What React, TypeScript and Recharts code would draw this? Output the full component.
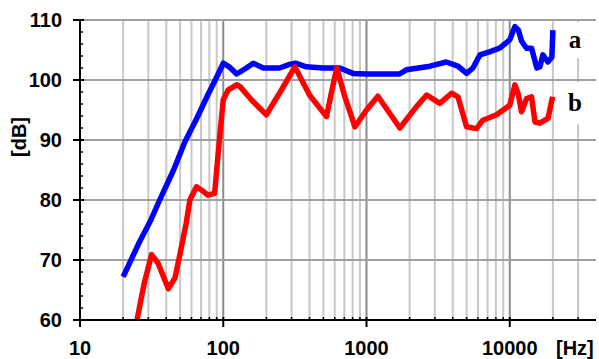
import React from 'react';
import { LineChart, Line, XAxis, YAxis, ReferenceLine } from 'recharts';

// Curve "a" (blue)
const freqA = [20, 26, 31, 36, 45, 54, 65, 78, 88, 100, 110, 124, 145, 162, 190, 247, 290, 320, 380, 500, 650, 806, 1000, 1240, 1700, 1900, 2300, 2770, 3600, 4350, 5000, 5530, 6200, 7200, 8500, 10000, 10870, 11500, 12080, 13090, 14200, 15460, 16220, 17030, 18450, 19680, 20000];
const dbA = [67.2, 73, 76.5, 80, 85, 89.7, 93.5, 97.5, 100, 102.8, 102.2, 101, 102, 102.8, 102, 102, 102.6, 102.8, 102.2, 102, 102, 101.1, 101, 101, 101, 101.7, 102, 102.3, 103, 102.3, 101.1, 102, 104.2, 104.7, 105.3, 106.7, 108.9, 108.3, 106.5, 105.3, 105.3, 102, 102.2, 104.2, 103, 103.8, 108.3];

// Curve "b" (red)
const freqB = [25, 28, 31.6, 35, 41.4, 46, 50, 55, 58.5, 65, 72, 78, 87, 95, 100, 108, 124, 131, 160, 200, 250, 316, 400, 526, 570, 620, 700, 830, 1000, 1200, 1400, 1710, 2240, 2630, 3250, 3920, 4350, 4990, 5860, 6490, 8090, 10000, 10870, 11500, 12080, 13090, 14200, 15000, 16220, 18500, 19900];
const dbB = [60, 66, 70.9, 69.5, 65.2, 67, 71.1, 76, 80, 82.2, 81.5, 80.8, 81.1, 91.2, 96.7, 98.3, 99.2, 98.9, 96.5, 94.2, 98, 102.2, 97.5, 93.9, 98, 102, 97.5, 92.2, 95, 97.3, 95, 92, 95.6, 97.5, 96.1, 97.8, 97.2, 92.2, 91.9, 93.3, 94.2, 95.8, 99.2, 97.5, 94.7, 96.9, 97.2, 93, 92.8, 93.6, 97.2];

// Axis ticks / grid
const xTicks = [10, 20, 30, 40, 50, 60, 70, 80, 90, 100, 200, 300, 400, 500, 600, 700, 800, 900, 1000, 2000, 3000, 4000, 5000, 6000, 7000, 8000, 9000, 10000, 20000, 30000];
const xMajor = [10, 100, 1000, 10000];
const yTicks = [60, 62, 64, 66, 68, 70, 72, 74, 76, 78, 80, 82, 84, 86, 88, 90, 92, 94, 96, 98, 100, 102, 104, 106, 108, 110];
const yGrid = [70, 80, 90, 100, 110];
const xUnit = '[Hz]';
const yUnit = '[dB]';
const labelA = 'a';
const labelB = 'b';

const seriesA = freqA.map((f, i) => ({ f, db: dbA[i] }));
const seriesB = freqB.map((f, i) => ({ f, db: dbB[i] }));

const FONT = '"Liberation Sans", Arial, sans-serif';

const XTick = (props: any) => {
  const { x, y, payload } = props;
  const v = payload.value;
  if (xMajor.includes(v)) {
    return (
      <g>
        <line x1={x} x2={x} y1={y - 3} y2={y + 7} stroke="#000" strokeWidth={2} />
        <text x={x} y={y + 35} textAnchor="middle" fontSize={20} fontWeight="bold" fontFamily={FONT} fill="#000">{v}</text>
      </g>
    );
  }
  return <line x1={x} x2={x} y1={y - 3} y2={y} stroke="#000" strokeWidth={1.5} />;
};

const YTick = (props: any) => {
  const { x, y, payload } = props;
  const v = payload.value;
  if (v % 10 === 0) {
    return (
      <g>
        <line x1={x - 7} x2={x + 4} y1={y} y2={y} stroke="#000" strokeWidth={2} />
        <text x={x - 18} y={y + 7} textAnchor="end" fontSize={20} fontWeight="bold" fontFamily={FONT} fill="#000">{v}</text>
      </g>
    );
  }
  return <line x1={x} x2={x + 3} y1={y} y2={y} stroke="#000" strokeWidth={1.5} />;
};

export default function App() {
  return (
    <div style={{ position: 'absolute', left: 0, top: 0, width: 599, height: 359, background: '#fff' }}>
      <LineChart width={599} height={359} data={seriesA} margin={{ top: 20, right: 3, left: 0, bottom: 0 }}>
        {xTicks.filter((t) => t !== 10).map((t) => (
          <ReferenceLine key={'x' + t} x={t} stroke={xMajor.includes(t) ? '#8c8c8c' : '#c8c8c8'} strokeWidth={2} />
        ))}
        {yGrid.map((t) => (
          <ReferenceLine key={'y' + t} y={t} stroke="#a0a0a0" strokeWidth={2} />
        ))}
        <XAxis
          dataKey="f"
          type="number"
          scale="log"
          domain={[10, 40000]}
          allowDataOverflow
          ticks={xTicks}
          interval={0}
          tickSize={0}
          tickMargin={0}
          tickLine={false}
          tick={<XTick />}
          height={39}
          axisLine={{ stroke: '#000', strokeWidth: 2 }}
        />
        <YAxis
          type="number"
          domain={[60, 110]}
          allowDataOverflow
          ticks={yTicks}
          interval={0}
          tickSize={0}
          tickMargin={0}
          tickLine={false}
          tick={<YTick />}
          width={80}
          axisLine={{ stroke: '#000', strokeWidth: 2 }}
        />
        <Line data={seriesA} dataKey="db" stroke="#0000ff" strokeWidth={5.5} dot={false} isAnimationActive={false} strokeLinejoin="round" />
        <Line data={seriesB} dataKey="db" stroke="#ff0000" strokeWidth={5.5} dot={false} isAnimationActive={false} strokeLinejoin="round" />
      </LineChart>
      <div style={{ position: 'absolute', left: 562, top: 22, width: 26, height: 36, background: '#fff', textAlign: 'center', fontFamily: '"Liberation Serif", "Times New Roman", serif', fontWeight: 'bold', fontSize: 25, lineHeight: '36px' }}>{labelA}</div>
      <div style={{ position: 'absolute', left: 562, top: 82, width: 26, height: 42, background: '#fff', textAlign: 'center', fontFamily: '"Liberation Serif", "Times New Roman", serif', fontWeight: 'bold', fontSize: 25, lineHeight: '42px' }}>{labelB}</div>
      <div style={{ position: 'absolute', left: 556, top: 338, fontFamily: FONT, fontWeight: 'bold', fontSize: 20, lineHeight: '20px' }}>{xUnit}</div>
      <div style={{ position: 'absolute', left: 19, top: 137, width: 0, height: 0 }}>
        <div style={{ position: 'absolute', left: -30, top: -12, width: 60, textAlign: 'center', transform: 'rotate(-90deg)', fontFamily: FONT, fontWeight: 'bold', fontSize: 20, lineHeight: '24px' }}>{yUnit}</div>
      </div>
    </div>
  );
}
